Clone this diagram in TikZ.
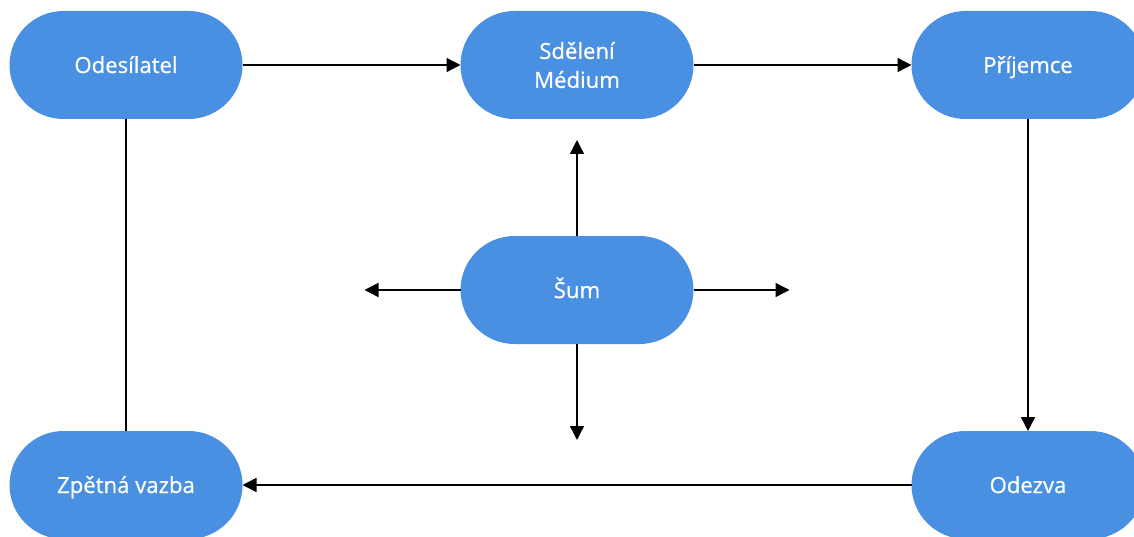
\documentclass[tikz,border=0pt]{standalone}
\usepackage{fontspec}
\setmainfont{Open Sans}
\newfontfamily\boxfont{Open Sans}[FakeBold=0.7]
\usepackage{tikz}
\usetikzlibrary{shapes.misc, positioning}
\usetikzlibrary{arrows.meta}
\tikzset{>={Triangle[width=2.8mm,length=2.8mm]}}
\definecolor{boxblue}{HTML}{4A90E2}

\begin{document}
\begin{tikzpicture}[node/.style={rounded rectangle, draw=none, fill=boxblue, text=white, minimum width=4.66cm, minimum height=2.16cm, inner sep=0pt, outer sep=0pt, align=center, text height=0.42cm, text depth=0.1cm, font=\boxfont\fontsize{12.6}{16.5}\selectfont}, line/.style={line width=0.8pt}]

    \clip (0,0) rectangle (22.68,-10.74);

    %Nodes
    \node[node](sender) at (2.52,-1.30){Odesílatel};
    \node[node, text height=, text depth=](message)[right=4.36cm of sender]{Sdělení\\Médium};
    \node[node](receiver)[right=4.36cm of message]{Příjemce};
    \node[node](noise)[below=2.34cm of message]{Šum};
    \node[node](feedback)[below=6.24cm of sender]{Zpětná vazba};
    \node[node](response)[below=6.24cm of receiver]{Odezva};

    %Free ends of the noise arrows
    \coordinate[above=1.92cm of noise](noise_up);
    \coordinate[below=1.92cm of noise](noise_down);
    \coordinate[left=1.92cm of noise](noise_left);
    \coordinate[right=1.92cm of noise](noise_right);

    %Lines
    \draw[line, ->] (sender.east) -- (message.west);
    \draw[line, ->] (message.east) -- (receiver.west);
    \draw[line, ->] (receiver.south) -- (response.north);
    \draw[line, ->] (response.west) -- (feedback.east);
    \draw[line] (feedback.north) -- (sender.south);
    \draw[line, ->] (noise.north) -- (noise_up);
    \draw[line, ->] (noise.south) -- (noise_down);
    \draw[line, ->] (noise.west) -- (noise_left);
    \draw[line, ->] (noise.east) -- (noise_right);

\end{tikzpicture}
\end{document}
